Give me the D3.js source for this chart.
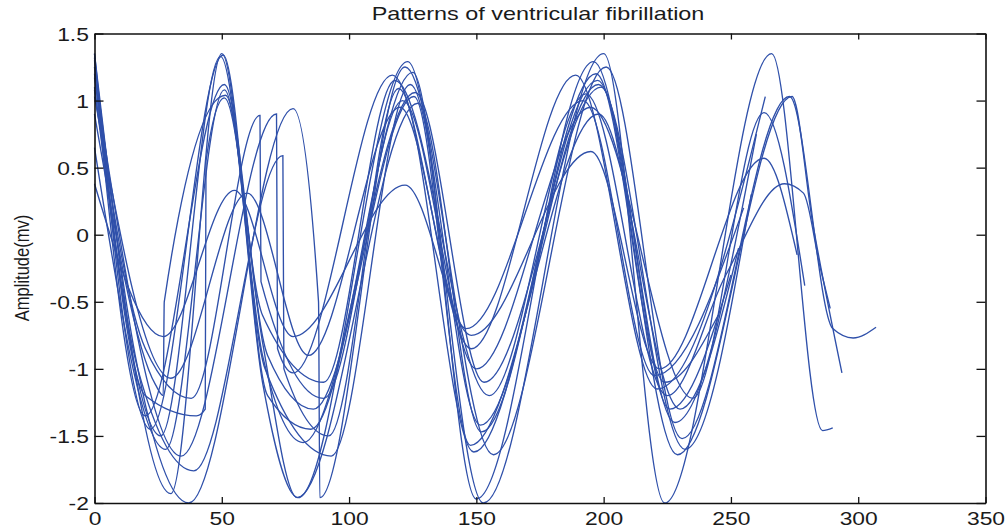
<!DOCTYPE html>
<html>
  <head>
    <meta charset="utf-8" />
    <title>Patterns of ventricular fibrillation</title>
    <script src="https://d3js.org/d3.v7.min.js"></script>
    <style>
      body { margin: 0; background: #fff; }
      text { font-family: "Liberation Sans", Arial, sans-serif; fill: #1a1a1a; }
    </style>
  </head>

  <body>
    <svg id="viz"></svg>

    <script>
        // [sample, amplitude (mv)] key points
        var traceA = [[0,1.35],[30,-1.93],[50,1.35],[66,-1.1],[80,-1.96],[123,1.29],[152.8,-2.0],[200,1.35],[224,-2.0],[266,1.35],[286,-1.46],[290,-1.44]];
        var traceB = [[0,1.32],[22,-1.45],[50.5,1.34],[68,-1.2],[85,-1.45],[125,1.21],[150,-1.97],[196,1.29],[229,-1.64],[274,1.03],[282,0.1],[293.6,-1.03]];
        var traceC = [[0,1.3],[16,-0.9],[37,-2.0],[78,0.94],[88,-0.5],[88.5,-1.96],[122,1.25],[156.7,-1.64],[201,1.25],[230.8,-1.52],[273,1.03],[290,-0.7],[298,-0.77],[307,-0.69]];
        var traceD = [[0,1.2],[17,-1.0],[39,-1.76],[74,0.59],[74.4,-1.0],[92,-1.5],[119.5,1.09],[149,-1.62],[197.6,1.15],[228,-1.4],[260,0.75]];
        var traceE = [[0,1.17],[34,-1.65],[71.5,0.9],[71.9,-0.85],[78,-1.03],[117,1.19],[148,-0.85],[189,1.19],[221,-1.15],[263.5,1.03]];
        var traceF = [[0,0.38],[27,-0.76],[55,0.33],[78,-0.76],[122,0.37],[148,-0.75],[195,0.62],[222,-1.0],[263,0.57],[276,-0.15]];
        var traceG = [[0,1.1],[26,-1.5],[49.5,1.33],[67,-1.0],[93,-1.65],[124,1.12],[151.6,-1.42],[198,1.12],[232,-1.6],[258,0.3]];
        var traceH = [[0,1.08],[20,-0.85],[38,-1.22],[65,0.89],[65.4,-0.35],[90,-1.22],[121,1.0],[150,-1.0],[194.8,0.95],[235,-1.22],[263,0.91],[279,-0.38]];
        var traceI = [[0,1.03],[30,-1.07],[60,0.31],[84,-0.9],[120,0.95],[146,-0.7],[192,1.0],[220,-1.05],[255,0.2]];
        var traceJ = [[0,0.9],[24,-1.12],[27,-1.2],[27.4,-0.5],[51.5,1.04],[66,-0.9],[82,-1.55],[126,1.06],[153,-1.1],[199,1.1],[226,-1.3],[250,-0.3]];
        var traceK = [[0,0.65],[28,-1.6],[51,1.08],[66,-0.6],[90,-1.1],[118,1.15],[155,-1.2],[193,1.05],[225,-1.2],[248,-0.3],[271,0.38],[278.5,0.31],[285,-0.24],[289,-0.55]];
        var traceL = [[0,1.25],[20,-1.35],[51,1.12],[66,-0.8],[79.6,-1.96],[127,0.98],[152,-1.47],[197,1.2],[224,-1.1],[245,-0.6]];
        var traceM = [[0,1.35],[20,-1.2],[40,-1.35],[43.5,-1.3],[43.8,0.55],[51,1.02],[68,-0.9],[86,-1.3],[125.5,1.03],[147.7,-1.57],[198,0.9],[230,-1.3],[253,-0.1]];

        var traces = [traceA, traceB, traceC, traceD, traceE, traceF, traceG,
                      traceH, traceI, traceJ, traceK, traceL, traceM];

        var xTicks = [0, 50, 100, 150, 200, 250, 300, 350];
        var yTicks = [-2, -1.5, -1, -0.5, 0, 0.5, 1, 1.5];
        var title = "Patterns of ventricular fibrillation";
        var yLabel = "Amplitude(mv)";

        var width = 1006, height = 528;
        var stretch = 1.27; // the picture is wider than it is tall, text too

        var svg = d3.select("#viz")
            .attr("width", width)
            .attr("height", height);

        var x = d3.scaleLinear().domain([0, 350]).range([94.5, 985.5]);
        var y = d3.scaleLinear().domain([-2, 1.5]).range([503, 33.5]);

        var line = d3.line()
            .x(function(d) { return x(d[0]); })
            .y(function(d) { return y(d[1]); })
            .curve(d3.curveMonotoneX);

        svg.append("g")
            .selectAll("path")
            .data(traces)
            .enter().append("path")
            .attr("d", line)
            .attr("fill", "none")
            .attr("stroke", "#2f50aa")
            .attr("stroke-width", 1.35);

        var fmt = function(d) { return String(d); };

        var bottom = svg.append("g")
            .attr("transform", "translate(0," + y(-2) + ")")
            .call(d3.axisBottom(x).tickValues(xTicks).tickFormat(fmt)
                .tickSizeInner(-6).tickSizeOuter(0).tickPadding(9));

        var left = svg.append("g")
            .attr("transform", "translate(" + x(0) + ",0)")
            .call(d3.axisLeft(y).tickValues(yTicks).tickFormat(fmt)
                .tickSizeInner(-9).tickSizeOuter(0).tickPadding(5.6));

        svg.append("g")
            .attr("transform", "translate(0," + y(1.5) + ")")
            .call(d3.axisTop(x).tickValues(xTicks).tickFormat("")
                .tickSizeInner(-6).tickSizeOuter(0));

        svg.append("g")
            .attr("transform", "translate(" + x(350) + ",0)")
            .call(d3.axisRight(y).tickValues(yTicks).tickFormat("")
                .tickSizeInner(-9).tickSizeOuter(0));

        svg.selectAll(".domain").attr("stroke", "#111").attr("stroke-width", 1.6);
        svg.selectAll(".tick line").attr("stroke", "#111").attr("stroke-width", 1.3);

        svg.selectAll(".tick text")
            .attr("font-family", "Liberation Sans, Arial, sans-serif")
            .attr("font-size", 18)
            .attr("fill", "#1a1a1a")
            .attr("transform", "scale(" + stretch + ",1)");

        // left labels: keep right edge in place after stretching
        left.selectAll(".tick text").attr("x", -5.6 / stretch).attr("dy", "0.37em");
        bottom.selectAll(".tick text").attr("x", 0);

        svg.append("text")
            .attr("transform", "translate(538,20) scale(1.3,1)")
            .attr("text-anchor", "middle")
            .attr("font-size", 18)
            .text(title);

        svg.append("text")
            .attr("transform", "translate(28.5,268) scale(" + stretch + ",1) rotate(-90)")
            .attr("text-anchor", "middle")
            .attr("font-size", 16.5)
            .text(yLabel);
    </script>
  </body>
</html>
